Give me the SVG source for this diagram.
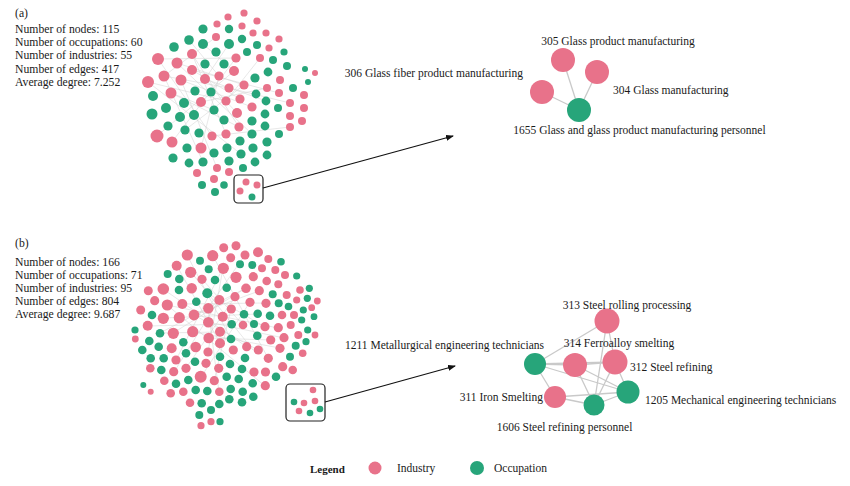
<svg xmlns="http://www.w3.org/2000/svg" width="850" height="486" viewBox="0 0 850 486">
<defs>
<style>
.p{fill:#E8728A}
.g{fill:#27A57A}
.t{font-family:"Liberation Serif","Times New Roman",serif;font-size:11.7px;fill:#1a1a1a}
.lb{font-family:"Liberation Serif","Times New Roman",serif;font-size:11.5px;fill:#1a1a1a}
.fe{stroke:#cfcfcf;stroke-width:0.6;opacity:0.8;fill:none}
.ed{stroke:#c9c9c9;stroke-width:1.3;fill:none}
.ar{stroke:#111;stroke-width:1.2;fill:none}
.bx{fill:none;stroke:#222;stroke-width:1.2}
</style>
<marker id="ah" markerWidth="8" markerHeight="6" refX="7" refY="3" orient="auto" markerUnits="userSpaceOnUse">
<path d="M0,0 L8,3 L0,6 z" fill="#111"/>
</marker>
</defs>
<rect width="850" height="486" fill="#fff"/>

<g id="stats-a" class="t">
<text x="15" y="16.5">(a)</text>
<text x="15" y="33">Number of nodes: 115</text>
<text x="15" y="46.2">Number of occupations: 60</text>
<text x="15" y="59.4">Number of industries: 55</text>
<text x="15" y="72.6">Number of edges: 417</text>
<text x="15" y="85.8">Average degree: 7.252</text>
</g>
<g id="stats-b" class="t">
<text x="15" y="247">(b)</text>
<text x="15" y="265.5">Number of nodes: 166</text>
<text x="15" y="278.7">Number of occupations: 71</text>
<text x="15" y="291.9">Number of industries: 95</text>
<text x="15" y="305.1">Number of edges: 804</text>
<text x="15" y="318.3">Average degree: 9.687</text>
</g>

<g id="cloud-edges">
<path class="fe" d="M164,76L229,88M158,59L236,58M181,80L252,107M192,70L240,99M148,82L226,101M177,63L244,85M205,79L237,113M171,93L239,127M192,54L226,134M219,76L201,148M158,59L212,136M234,71L157,136M229,44L205,79M216,37L164,76M236,58L172,142M244,85L185,130M205,79L266,101M229,88L290,103M192,70L279,93M177,63L252,134M201,102L267,88M226,101L260,58M212,136L290,127M164,76L203,162M181,80L217,168M239,127L192,54M148,82L241,154M203,44L234,71M189,40L219,76M171,93L214,110"/>
<path class="fe" d="M191,272L253,350M163,289L247,347M177,266L220,343M213,256L268,358M167,305L278,328M223,268L176,360M246,288L160,333M194,315L258,350M208,308L219,392M219,300L174,372M235,297L186,368M250,302L201,377M182,304L266,303M208,322L284,338M202,279L243,325M163,318L258,314M223,268L208,352M173,333L246,288M209,338L271,340M207,293L265,327M193,332L280,348M220,332L160,333M231,309L214,381M148,326L232,324M194,315L259,291M245,255L208,308M187,255L231,339M167,305L265,386"/>
</g>

<g id="cloud-a">
<circle class="p" cx="244" cy="13" r="3.6"/><circle class="p" cx="228" cy="17" r="3.6"/><circle class="p" cx="257" cy="21" r="3.6"/><circle class="p" cx="217" cy="24" r="3.6"/>
<circle class="g" cx="203" cy="29" r="4.6"/><circle class="g" cx="229" cy="29" r="4.2"/><circle class="p" cx="242" cy="26" r="3.6"/><circle class="p" cx="253" cy="33" r="3.6"/><circle class="p" cx="266" cy="33" r="3.6"/>
<circle class="p" cx="216" cy="37" r="4"/><circle class="g" cx="242" cy="39" r="4.2"/><circle class="g" cx="189" cy="40" r="4.8"/><circle class="p" cx="279" cy="39" r="3.6"/>
<circle class="g" cx="174" cy="47" r="4.8"/><circle class="g" cx="203" cy="44" r="5"/><circle class="g" cx="229" cy="44" r="5"/><circle class="g" cx="257" cy="45" r="4"/><circle class="p" cx="269" cy="48" r="3.6"/><circle class="g" cx="284" cy="52" r="3.6"/><circle class="g" cx="216" cy="52" r="4.6"/><circle class="g" cx="247" cy="52" r="4"/><circle class="p" cx="192" cy="54" r="5"/>
<circle class="p" cx="158" cy="59" r="6"/><circle class="p" cx="177" cy="63" r="5.5"/><circle class="g" cx="205" cy="64" r="4.6"/><circle class="g" cx="224" cy="64" r="4.6"/><circle class="p" cx="236" cy="58" r="4.6"/><circle class="p" cx="260" cy="58" r="4"/><circle class="g" cx="273" cy="60" r="4"/><circle class="g" cx="287" cy="66" r="4"/><circle class="g" cx="305" cy="69" r="3"/><circle class="p" cx="315" cy="73" r="3"/>
<circle class="p" cx="164" cy="76" r="5.5"/><circle class="p" cx="192" cy="70" r="5"/><circle class="p" cx="219" cy="76" r="4.6"/><circle class="p" cx="234" cy="71" r="5"/><circle class="g" cx="268" cy="72" r="4.4"/><circle class="g" cx="255" cy="78" r="4.6"/>
<circle class="p" cx="148" cy="82" r="6"/><circle class="p" cx="181" cy="80" r="5.5"/><circle class="p" cx="205" cy="79" r="5"/><circle class="g" cx="195" cy="91" r="4.6"/><circle class="p" cx="229" cy="88" r="4.6"/><circle class="p" cx="244" cy="85" r="4.6"/><circle class="p" cx="280" cy="80" r="4"/><circle class="p" cx="267" cy="88" r="4"/><circle class="g" cx="293" cy="88" r="4"/><circle class="g" cx="308" cy="82" r="3"/>
<circle class="g" cx="153" cy="96" r="5"/><circle class="p" cx="171" cy="93" r="5.5"/><circle class="g" cx="211" cy="92" r="4.6"/><circle class="p" cx="240" cy="99" r="4.6"/><circle class="g" cx="256" cy="94" r="4.4"/><circle class="p" cx="279" cy="93" r="4"/><circle class="p" cx="304" cy="95" r="4"/>
<circle class="p" cx="201" cy="102" r="5"/><circle class="g" cx="166" cy="108" r="5"/><circle class="g" cx="184" cy="103" r="5"/><circle class="g" cx="266" cy="101" r="4.4"/><circle class="p" cx="290" cy="103" r="4"/><circle class="p" cx="226" cy="101" r="4.6"/><circle class="p" cx="304" cy="108" r="4"/>
<circle class="g" cx="152" cy="114" r="5.5"/><circle class="g" cx="214" cy="110" r="4.6"/><circle class="g" cx="180" cy="117" r="5"/><circle class="g" cx="194" cy="115" r="5"/><circle class="p" cx="237" cy="113" r="5"/><circle class="g" cx="224" cy="120" r="4.6"/><circle class="p" cx="252" cy="107" r="4.6"/><circle class="g" cx="252" cy="121" r="4.6"/><circle class="g" cx="265" cy="114" r="4.4"/><circle class="g" cx="278" cy="108" r="4"/><circle class="p" cx="290" cy="116" r="4"/><circle class="p" cx="302" cy="121" r="4"/>
<circle class="g" cx="168" cy="126" r="4.6"/><circle class="g" cx="185" cy="130" r="4.6"/><circle class="g" cx="199" cy="133" r="4.6"/><circle class="p" cx="212" cy="136" r="4.6"/><circle class="p" cx="226" cy="134" r="4.6"/><circle class="p" cx="239" cy="127" r="4.6"/><circle class="g" cx="252" cy="134" r="4.6"/><circle class="g" cx="265" cy="126" r="4.4"/><circle class="g" cx="279" cy="134" r="4"/><circle class="p" cx="290" cy="127" r="4"/><circle class="p" cx="157" cy="136" r="6.5"/>
<circle class="p" cx="172" cy="142" r="5.5"/><circle class="g" cx="187" cy="148" r="4.6"/><circle class="p" cx="201" cy="148" r="5.5"/><circle class="g" cx="214" cy="153" r="4.6"/><circle class="g" cx="227" cy="148" r="4.6"/><circle class="g" cx="240" cy="141" r="4.6"/><circle class="g" cx="253" cy="148" r="4.6"/><circle class="g" cx="267" cy="142" r="4.6"/>
<circle class="g" cx="173" cy="158" r="4.6"/><circle class="g" cx="189" cy="163" r="4.4"/><circle class="g" cx="203" cy="162" r="4.6"/><circle class="p" cx="217" cy="168" r="4"/><circle class="g" cx="229" cy="161" r="4.6"/><circle class="g" cx="241" cy="154" r="4.6"/><circle class="g" cx="255" cy="162" r="4.4"/><circle class="g" cx="267" cy="155" r="4.4"/><circle class="g" cx="243" cy="168" r="4"/>
<circle class="p" cx="197" cy="173" r="4"/><circle class="p" cx="214" cy="179" r="4"/><circle class="p" cx="229" cy="172" r="4"/><circle class="g" cx="202" cy="185" r="4"/><circle class="g" cx="224" cy="185" r="3.8"/><circle class="g" cx="215" cy="192" r="4"/>
</g>
<g id="box-a">
<rect class="bx" x="234" y="175" width="29" height="28" rx="4"/>
<circle class="p" cx="246" cy="182" r="3.5"/><circle class="p" cx="257" cy="185" r="3.5"/><circle class="p" cx="240" cy="191" r="3.5"/><circle class="g" cx="252" cy="197" r="3.5"/>
</g>

<g id="cloud-b">
<circle class="p" cx="223.7" cy="247.7" r="4.5"/><circle class="p" cx="236" cy="245.7" r="4.5"/><circle class="p" cx="187.3" cy="255" r="5.6"/><circle class="p" cx="212.7" cy="255.7" r="5.6"/><circle class="p" cx="245" cy="255" r="4.5"/><circle class="p" cx="258" cy="252.3" r="5"/><circle class="g" cx="200" cy="260.7" r="4"/><circle class="p" cx="230.7" cy="257.7" r="4.5"/><circle class="p" cx="268.3" cy="259" r="4"/><circle class="g" cx="281" cy="261.7" r="3.8"/>
<circle class="p" cx="176.7" cy="265.7" r="5"/><circle class="g" cx="208.7" cy="269.3" r="4"/><circle class="p" cx="223.3" cy="268.3" r="5.6"/><circle class="g" cx="240" cy="264.3" r="4"/><circle class="g" cx="252.3" cy="265" r="4"/><circle class="p" cx="262" cy="268.3" r="4"/><circle class="p" cx="275.3" cy="270" r="4"/>
<circle class="g" cx="167.7" cy="274" r="4"/><circle class="p" cx="190.7" cy="272.3" r="5.6"/><circle class="g" cx="179.3" cy="279" r="4.3"/><circle class="p" cx="202" cy="279.3" r="4.6"/><circle class="g" cx="215" cy="280" r="4.3"/><circle class="p" cx="236" cy="277.3" r="5.6"/><circle class="p" cx="253.3" cy="276.7" r="4.6"/><circle class="p" cx="266.7" cy="281" r="4.3"/><circle class="p" cx="285" cy="275" r="4"/><circle class="g" cx="296.7" cy="276" r="3.6"/><circle class="p" cx="278.3" cy="284.3" r="4"/>
<circle class="p" cx="148.3" cy="290.7" r="4.5"/><circle class="p" cx="163.3" cy="289" r="5.8"/><circle class="g" cx="179" cy="290" r="4.3"/><circle class="p" cx="191.7" cy="288.3" r="5.2"/><circle class="g" cx="207.3" cy="293.3" r="5"/><circle class="g" cx="226.7" cy="287.7" r="4.3"/><circle class="p" cx="246" cy="288.3" r="4.8"/><circle class="p" cx="259.3" cy="290.7" r="4.6"/><circle class="g" cx="272.7" cy="294.3" r="4"/><circle class="p" cx="286.7" cy="295" r="4"/><circle class="g" cx="309.3" cy="288.3" r="3.6"/><circle class="p" cx="300" cy="290" r="3.8"/>
<circle class="p" cx="154.7" cy="300.7" r="4.6"/><circle class="p" cx="167.3" cy="305" r="5.6"/><circle class="p" cx="182.3" cy="304" r="5"/><circle class="g" cx="196.3" cy="301.7" r="4.3"/><circle class="p" cx="208.3" cy="308.3" r="5.2"/><circle class="p" cx="219.3" cy="300" r="5"/><circle class="p" cx="235" cy="296.7" r="4.6"/><circle class="p" cx="250" cy="302.3" r="4.6"/><circle class="p" cx="266" cy="303.3" r="4.6"/><circle class="g" cx="278.7" cy="303.3" r="4"/><circle class="g" cx="288.5" cy="306.5" r="3.8"/><circle class="p" cx="296.7" cy="300" r="3.6"/><circle class="g" cx="307.3" cy="298.3" r="3.6"/><circle class="p" cx="317.3" cy="301" r="3.4"/>
<circle class="p" cx="140.7" cy="310" r="4.5"/><circle class="g" cx="152" cy="315" r="4.3"/><circle class="p" cx="163.3" cy="318.3" r="5.6"/><circle class="p" cx="179.3" cy="317.7" r="5.6"/><circle class="p" cx="194" cy="315" r="5.4"/><circle class="p" cx="208.3" cy="322.3" r="5.3"/><circle class="p" cx="222.7" cy="316.7" r="5"/><circle class="p" cx="231.3" cy="309" r="4.6"/><circle class="g" cx="244" cy="314.3" r="4.3"/><circle class="g" cx="257.7" cy="313.7" r="4.3"/><circle class="g" cx="270" cy="315.7" r="4.3"/><circle class="p" cx="282" cy="315" r="4.3"/><circle class="p" cx="294" cy="315" r="4"/><circle class="g" cx="303.3" cy="310" r="3.6"/><circle class="p" cx="311.7" cy="307.7" r="3.4"/><circle class="g" cx="314" cy="316.7" r="3.4"/>
<circle class="p" cx="147.7" cy="325.7" r="5"/><circle class="g" cx="160" cy="333.3" r="4.3"/><circle class="p" cx="173.3" cy="333.3" r="5.6"/><circle class="p" cx="192.7" cy="331.7" r="5.6"/><circle class="p" cx="220" cy="331.7" r="5"/><circle class="g" cx="231.7" cy="324.3" r="4.3"/><circle class="p" cx="243" cy="325" r="4.3"/><circle class="g" cx="254" cy="324" r="4"/><circle class="p" cx="265" cy="326.7" r="4.6"/><circle class="p" cx="278.3" cy="327.7" r="4.6"/><circle class="p" cx="290.7" cy="325" r="4"/><circle class="g" cx="301.7" cy="320" r="3.6"/><circle class="g" cx="307.7" cy="330" r="3.6"/><circle class="p" cx="315" cy="335" r="3.4"/><circle class="g" cx="135" cy="330" r="3.6"/><circle class="p" cx="135.3" cy="339" r="3.4"/>
<circle class="g" cx="149.3" cy="341" r="4.3"/><circle class="g" cx="158.7" cy="346.7" r="4.3"/><circle class="p" cx="171.7" cy="348.3" r="5"/><circle class="g" cx="183.3" cy="342.3" r="4.3"/><circle class="p" cx="195.7" cy="347" r="5.3"/><circle class="p" cx="208.7" cy="338" r="5.3"/><circle class="p" cx="220" cy="343.3" r="5"/><circle class="g" cx="231" cy="339" r="4.3"/><circle class="p" cx="246.7" cy="346.7" r="4.6"/><circle class="g" cx="257.3" cy="335.7" r="4.3"/><circle class="p" cx="270.7" cy="340" r="4.6"/><circle class="p" cx="284" cy="337.7" r="4.6"/><circle class="p" cx="298.3" cy="335" r="4"/><circle class="g" cx="306" cy="341.7" r="3.6"/><circle class="g" cx="295.7" cy="345.7" r="4"/>
<circle class="g" cx="142.3" cy="350" r="4.3"/><circle class="g" cx="150.7" cy="358.3" r="4.3"/><circle class="g" cx="163.7" cy="358.3" r="4.3"/><circle class="p" cx="176" cy="360" r="4.6"/><circle class="g" cx="186" cy="353.3" r="4.3"/><circle class="g" cx="195" cy="361.7" r="4.3"/><circle class="p" cx="208" cy="352" r="4.6"/><circle class="g" cx="220" cy="356.7" r="4.3"/><circle class="p" cx="233.3" cy="350" r="4.6"/><circle class="g" cx="245" cy="358" r="4.3"/><circle class="p" cx="258.3" cy="350" r="4.6"/><circle class="p" cx="268.3" cy="358.3" r="4.6"/><circle class="p" cx="280" cy="348.3" r="4.6"/><circle class="g" cx="290" cy="356.7" r="4"/><circle class="p" cx="302.7" cy="353.3" r="3.8"/>
<circle class="p" cx="150.3" cy="368.3" r="4.3"/><circle class="g" cx="161.3" cy="370" r="4.3"/><circle class="p" cx="173.7" cy="371.7" r="4.6"/><circle class="p" cx="186" cy="368.3" r="4.6"/><circle class="p" cx="206" cy="363.3" r="4.6"/><circle class="g" cx="230" cy="364" r="4.3"/><circle class="p" cx="218.7" cy="368.3" r="4.6"/><circle class="g" cx="242" cy="369" r="4.3"/><circle class="p" cx="254" cy="372" r="4.6"/><circle class="p" cx="265.5" cy="372" r="4.6"/><circle class="p" cx="282.7" cy="366.7" r="4.6"/><circle class="p" cx="292.7" cy="370" r="4.3"/><circle class="g" cx="276" cy="376.7" r="4.3"/>
<circle class="p" cx="164.3" cy="380.7" r="4.3"/><circle class="g" cx="176" cy="383.7" r="4.3"/><circle class="g" cx="188.3" cy="380" r="4.3"/><circle class="p" cx="200.7" cy="376.7" r="6"/><circle class="p" cx="214.3" cy="380.7" r="4.6"/><circle class="g" cx="226.7" cy="376.7" r="4.3"/><circle class="g" cx="238.7" cy="379" r="4.3"/><circle class="g" cx="252.7" cy="383.3" r="4.3"/><circle class="p" cx="265.3" cy="385.7" r="4.6"/>
<circle class="g" cx="143.3" cy="385" r="3"/><circle class="p" cx="150.7" cy="391.7" r="3"/><circle class="p" cx="170.7" cy="393.3" r="4.3"/><circle class="p" cx="183.3" cy="391.7" r="4.3"/><circle class="g" cx="195.7" cy="390" r="4.3"/><circle class="g" cx="207.3" cy="391" r="4.3"/><circle class="p" cx="219.3" cy="391.7" r="4.3"/><circle class="g" cx="230.7" cy="389" r="4.3"/><circle class="g" cx="242.7" cy="391.7" r="4.3"/><circle class="g" cx="253.3" cy="396.7" r="4.3"/>
<circle class="p" cx="190" cy="402.7" r="4.3"/><circle class="g" cx="201.7" cy="403.3" r="4.3"/><circle class="g" cx="219.3" cy="404" r="4.3"/><circle class="g" cx="229.3" cy="399.3" r="4.3"/><circle class="g" cx="242" cy="402.3" r="4.3"/><circle class="g" cx="211" cy="410" r="4"/><circle class="g" cx="199.3" cy="415" r="4"/><circle class="p" cx="211" cy="421.7" r="3.6"/><circle class="g" cx="220" cy="421.7" r="3.6"/><circle class="p" cx="201" cy="425.7" r="3.6"/>
</g>
<g id="box-b">
<rect class="bx" x="286" y="384" width="39" height="37" rx="4"/>
<circle class="p" cx="313" cy="390" r="3.3"/><circle class="g" cx="294" cy="402" r="3.3"/><circle class="p" cx="304" cy="403" r="3.3"/><circle class="p" cx="315" cy="401" r="3.3"/><circle class="p" cx="299" cy="411" r="3.3"/><circle class="g" cx="310" cy="413" r="3.3"/><circle class="g" cx="320" cy="409" r="3.3"/>
</g>

<g id="connectors">
<line class="ar" x1="263" y1="188" x2="453" y2="136" marker-end="url(#ah)"/>
<line class="ar" x1="325" y1="402" x2="455" y2="366" marker-end="url(#ah)"/>
<line class="ed" x1="563" y1="60" x2="579" y2="110"/>
<line class="ed" x1="597" y1="72" x2="579" y2="110"/>
<line class="ed" x1="542" y1="92" x2="579" y2="110"/>
<line class="ed" x1="535" y1="364" x2="607" y2="321"/>
<line class="ed" x1="535" y1="364" x2="575" y2="365"/>
<line class="ed" x1="535" y1="364" x2="615" y2="362"/>
<line class="ed" x1="535" y1="364" x2="555" y2="397"/>
<line class="ed" x1="535" y1="364" x2="628" y2="392"/>
<line class="ed" x1="575" y1="365" x2="615" y2="362"/>
<line class="ed" x1="575" y1="365" x2="594" y2="405"/>
<line class="ed" x1="575" y1="365" x2="628" y2="392"/>
<line class="ed" x1="607" y1="321" x2="615" y2="362"/>
<line class="ed" x1="607" y1="321" x2="594" y2="405"/>
<line class="ed" x1="615" y1="362" x2="594" y2="405"/>
<line class="ed" x1="615" y1="362" x2="628" y2="392"/>
<line class="ed" x1="555" y1="397" x2="594" y2="405"/>
<line class="ed" x1="555" y1="397" x2="628" y2="392"/>
<line class="ed" x1="594" y1="405" x2="628" y2="392"/>
</g>

<g id="n305"><circle class="p" cx="563" cy="60" r="12"/><text class="lb" x="618" y="45" text-anchor="middle">305 Glass product manufacturing</text></g>
<g id="n304"><circle class="p" cx="597" cy="72" r="12"/><text class="lb" x="613" y="94">304 Glass manufacturing</text></g>
<g id="n306"><circle class="p" cx="542" cy="92" r="12"/><text class="lb" x="523" y="77" text-anchor="end">306 Glass fiber product manufacturing</text></g>
<g id="n1655"><circle class="g" cx="579" cy="110" r="12"/><text class="lb" x="639.5" y="134" text-anchor="middle">1655 Glass and glass product manufacturing personnel</text></g>

<g id="n313"><circle class="p" cx="607" cy="321" r="12.5"/><text class="lb" x="627" y="309" text-anchor="middle">313 Steel rolling processing</text></g>
<g id="n1211"><circle class="g" cx="535" cy="364" r="11"/><text class="lb" x="544" y="349" text-anchor="end">1211 Metallurgical engineering technicians</text></g>
<g id="n314"><circle class="p" cx="575" cy="365" r="12"/><text class="lb" x="619" y="347" text-anchor="middle">314 Ferroalloy smelting</text></g>
<g id="n312"><circle class="p" cx="615" cy="362" r="12.5"/><text class="lb" x="630" y="371">312 Steel refining</text></g>
<g id="n311"><circle class="p" cx="555" cy="397" r="11"/><text class="lb" x="543" y="401" text-anchor="end">311 Iron Smelting</text></g>
<g id="n1606"><circle class="g" cx="594" cy="405" r="10.5"/><text class="lb" x="564.5" y="431" text-anchor="middle">1606 Steel refining personnel</text></g>
<g id="n1205"><circle class="g" cx="628" cy="392" r="11.5"/><text class="lb" x="645" y="404">1205 Mechanical engineering technicians</text></g>

<g id="legend">
<text x="310" y="472.5" font-family="'Liberation Serif','Times New Roman',serif" font-size="11px" font-weight="bold" fill="#1a1a1a">Legend</text>
<circle class="p" cx="375" cy="468" r="6.5"/>
<text class="lb" x="397" y="472">Industry</text>
<circle class="g" cx="477" cy="468" r="7"/>
<text class="lb" x="494" y="472">Occupation</text>
</g>
</svg>
